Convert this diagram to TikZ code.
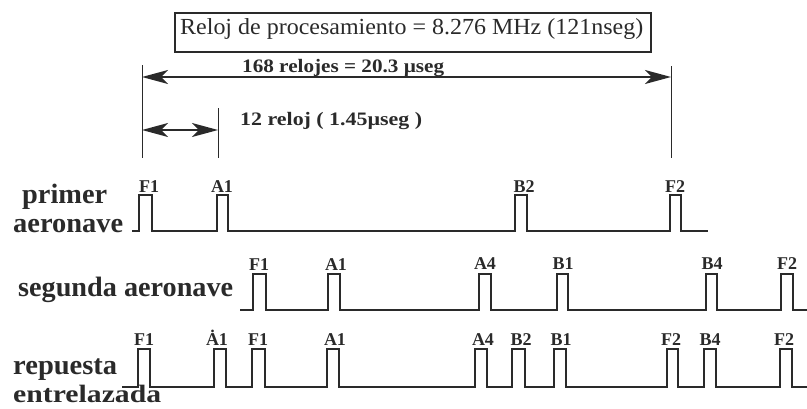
\documentclass[tikz,border=0pt]{standalone}
\usepackage{fontspec}
\setmainfont{Liberation Serif}
\usetikzlibrary{arrows.meta}
\newcommand{\W}[2]{\resizebox{#1}{\height}{#2}}
\definecolor{ink}{HTML}{2A2A2A}
\tikzset{
  rowlab/.style={anchor=base west, inner sep=0pt, font=\fontsize{28}{28}\selectfont\bfseries, text=ink},
  plab/.style={anchor=base, inner sep=0pt, font=\fontsize{18}{18}\selectfont\bfseries, text=ink},
  meas/.style={anchor=base west, inner sep=0pt, font=\fontsize{19}{19}\selectfont\bfseries, text=ink},
  sig/.style={draw=ink, line width=1.8pt, line join=miter},
  guide/.style={draw=ink, line width=1pt},
  dim/.style={draw=ink, line width=1.5pt, {Stealth[length=26pt,width=14pt,inset=7pt]}-{Stealth[length=26pt,width=14pt,inset=7pt]}},
}
% pulse: #1 left x, #2 right x, #3 top y, #4 base y
\newcommand{\pulse}[4]{-- (#1,#4) -- (#1,#3) -- (#2,#3) -- (#2,#4)}
\begin{document}
\begin{tikzpicture}[x=1pt,y=-1pt]
\useasboundingbox (0,0) rectangle (807,408);
% clock box
\node[draw=ink, line width=1.2pt, minimum width=476pt, minimum height=39pt, inner sep=0pt] (clk) at (413,32.5) {};
\node[anchor=base west, inner sep=0pt, font=\fontsize{23}{23}\selectfont, text=ink] (clktxt) at (180,34) {\W{463pt}{Reloj de procesamiento = 8.276 MHz (121nseg)}};
% guides
\coordinate (gl1) at (142,65);
\coordinate (gl2) at (142,158);
\coordinate (gr1) at (671,66);
\coordinate (gr2) at (671,158);
\coordinate (gm1) at (218,108);
\coordinate (gm2) at (218,158);
\draw[guide] (gl1) -- (gl2);
\draw[guide] (gr1) -- (gr2);
\draw[guide] (gm1) -- (gm2);
\coordinate (la) at (142,77);
\coordinate (lb) at (671,77);
\coordinate (sa) at (142,130);
\coordinate (sb) at (218,130);
\draw[dim] (la) -- (lb);
\draw[dim] (sa) -- (sb);
\node[meas] (m1) at (242,72.5) {\W{202pt}{168 relojes = 20.3 µseg}};
\node[meas] (m2) at (240,125) {\W{182pt}{12 reloj ( 1.45µseg )}};
% row labels
\node[rowlab] (r1a) at (22,203) {\W{85pt}{primer}};
\node[rowlab] (r1b) at (13,232) {\W{110pt}{aeronave}};
\node[rowlab] (r2) at (18,296) {\W{215pt}{segunda aeronave}};
\node[rowlab] (r3a) at (13,374) {\W{104pt}{repuesta}};
\node[rowlab, font=\fontsize{25}{25}\selectfont\bfseries] (r3b) at (13,402.5) {\W{148pt}{entrelazada}};
% row 1
\draw[sig] (132,231) \pulse{139}{152}{195}{231} \pulse{217}{228}{195}{231} \pulse{515}{527}{195}{231} \pulse{670}{681}{195}{231} -- (708,231);
\node[plab] (p1a) at (149,192) {F1};
\node[plab] (p1b) at (222,192) {A1};
\node[plab] (p1c) at (524,192) {B2};
\node[plab] (p1d) at (675,192) {F2};
% row 2
\draw[sig] (240,310) \pulse{253}{266}{274}{310} \pulse{328}{340}{274}{310} \pulse{479}{491}{274}{310} \pulse{557}{568}{274}{310} \pulse{706}{717}{274}{310} \pulse{781}{793}{274}{310} -- (807,310);
\node[plab] (p2a) at (259,270) {F1};
\node[plab] (p2b) at (336,270) {A1};
\node[plab] (p2c) at (485,269) {A4};
\node[plab] (p2d) at (563,269) {B1};
\node[plab] (p2e) at (712,269) {B4};
\node[plab] (p2f) at (787,269) {F2};
% row 3
\draw[sig] (122,387) \pulse{138}{150}{349}{387} \pulse{214}{226}{349}{387} \pulse{252}{265}{349}{387} \pulse{327}{339}{349}{387} \pulse{475}{487}{349}{387} \pulse{512}{525}{349}{387} \pulse{554}{566}{349}{387} \pulse{667}{678}{349}{387} \pulse{704}{716}{349}{387} \pulse{780}{792}{349}{387} -- (807,387);
\node[plab] (p3a) at (144,345) {F1};
\node[plab] (p3b) at (217,345) {\.A1};
\node[plab] (p3c) at (258,345) {F1};
\node[plab] (p3d) at (335,345) {A1};
\node[plab] (p3e) at (483,345) {A4};
\node[plab] (p3f) at (521,345) {B2};
\node[plab] (p3g) at (561,345) {B1};
\node[plab] (p3h) at (671,345) {F2};
\node[plab] (p3i) at (710,345) {B4};
\node[plab] (p3j) at (784,345) {F2};
\end{tikzpicture}
\end{document}
